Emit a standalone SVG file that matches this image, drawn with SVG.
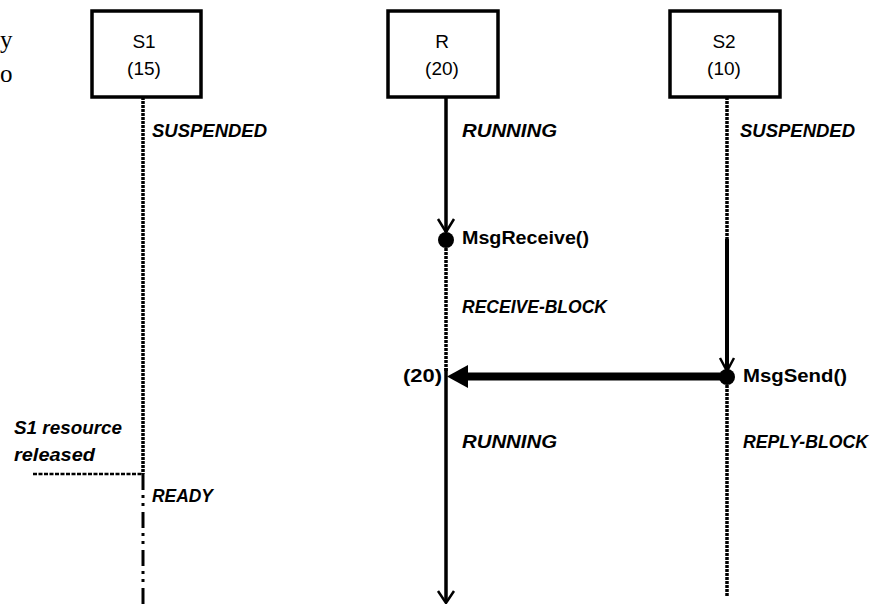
<svg xmlns="http://www.w3.org/2000/svg" width="873" height="604" viewBox="0 0 873 604">
<style>
.box{fill:#fff;stroke:#000;stroke-width:3.5}
.bt{font-family:"Liberation Sans",Arial,sans-serif;font-size:19px;text-anchor:middle;fill:#000}
.st{font-family:"Liberation Sans",Arial,sans-serif;font-size:18px;font-weight:bold;font-style:italic;fill:#000}
.ct{font-family:"Liberation Sans",Arial,sans-serif;font-size:18px;font-weight:bold;fill:#000}
.dot{fill:none;stroke:#000;stroke-width:3.5;stroke-dasharray:3 1}
.sol{fill:none;stroke:#000;stroke-width:3.5}
.v{fill:none;stroke:#000;stroke-width:2.5}
.frag{font-family:"Liberation Serif","Times New Roman",serif;font-size:25px;fill:#000}
</style>
<rect width="873" height="604" fill="#fff"/>
<text class="frag" x="0" y="48">y</text>
<text class="frag" x="0" y="82">o</text>
<g id="connectors">
  <line class="dot" x1="143" y1="97" x2="143" y2="474"/>
  <line x1="33" y1="474" x2="143" y2="474" stroke="#000" stroke-width="2.5" stroke-dasharray="4 1.5"/>
  <line x1="143" y1="474" x2="143" y2="604" stroke="#000" stroke-width="3" stroke-dasharray="16 5 3 5 3 6"/>
  <line class="sol" x1="446" y1="97" x2="446" y2="232"/>
  <polyline class="v" points="438,219 446,232 454,219"/>
  <circle cx="446" cy="240" r="8" fill="#000"/>
  <line class="dot" x1="446" y1="248" x2="446" y2="372"/>
  <line class="sol" x1="446" y1="368" x2="446" y2="602"/>
  <polyline class="v" points="438,591 446,603 454,591"/>
  <line class="dot" x1="727" y1="97" x2="727" y2="239"/>
  <line x1="727" y1="239" x2="727" y2="371" stroke="#000" stroke-width="4"/>
  <polyline class="v" points="720,358 727,371 734,358"/>
  <circle cx="727" cy="377" r="8" fill="#000"/>
  <line class="dot" x1="727" y1="385" x2="727" y2="596"/>
  <line x1="727" y1="376.5" x2="464" y2="376.5" stroke="#000" stroke-width="8"/>
  <polygon points="447,376.5 468,365 468,388" fill="#000"/>
</g>
<g id="S1">
  <rect class="box" x="92" y="11" width="109" height="86"/>
  <text class="bt" x="144" y="48">S1</text>
  <text class="bt" x="144" y="75">(15)</text>
</g>
<g id="R">
  <rect class="box" x="388" y="11" width="110" height="86"/>
  <text class="bt" x="442" y="48">R</text>
  <text class="bt" x="442" y="75">(20)</text>
</g>
<g id="S2">
  <rect class="box" x="670" y="11" width="110" height="86"/>
  <text class="bt" x="724" y="48">S2</text>
  <text class="bt" x="724" y="75">(10)</text>
</g>
<g id="labels">
  <text class="st" x="152" y="137" textLength="115" lengthAdjust="spacingAndGlyphs">SUSPENDED</text>
  <text class="st" x="462" y="137" textLength="95" lengthAdjust="spacingAndGlyphs">RUNNING</text>
  <text class="st" x="740" y="137" textLength="115" lengthAdjust="spacingAndGlyphs">SUSPENDED</text>
  <text class="ct" x="462" y="244" textLength="127" lengthAdjust="spacingAndGlyphs">MsgReceive()</text>
  <text class="st" x="462" y="313" textLength="145" lengthAdjust="spacingAndGlyphs">RECEIVE-BLOCK</text>
  <text class="ct" x="403" y="382" textLength="39" lengthAdjust="spacingAndGlyphs">(20)</text>
  <text class="ct" x="743" y="382" textLength="104" lengthAdjust="spacingAndGlyphs">MsgSend()</text>
  <text class="st" x="462" y="448" textLength="95" lengthAdjust="spacingAndGlyphs">RUNNING</text>
  <text class="st" x="743" y="448" textLength="125" lengthAdjust="spacingAndGlyphs">REPLY-BLOCK</text>
  <text class="st" x="14" y="434" textLength="108" lengthAdjust="spacingAndGlyphs">S1 resource</text>
  <text class="st" x="14" y="461" textLength="81" lengthAdjust="spacingAndGlyphs">released</text>
  <text class="st" x="152" y="502" textLength="61" lengthAdjust="spacingAndGlyphs">READY</text>
</g>
</svg>
